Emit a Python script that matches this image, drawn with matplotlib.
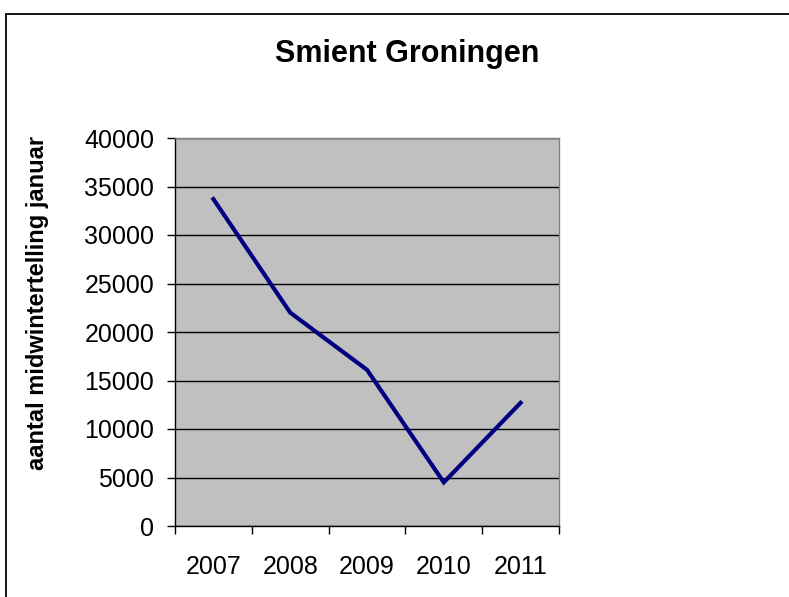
import matplotlib
matplotlib.use('Agg')
import matplotlib.pyplot as plt
from matplotlib.patches import Rectangle
from matplotlib.ticker import FixedLocator

years = ['2007', '2008', '2009', '2010', '2011']
counts = [33700, 22000, 16100, 4500, 12700]
yticks = [0, 5000, 10000, 15000, 20000, 25000, 30000, 35000, 40000]

plt.rcParams['font.family'] = ['Liberation Sans', 'DejaVu Sans']

W, H = 789, 597
fig = plt.figure(figsize=(W / 100, H / 100), dpi=100)
# chart frame, cut off at the right and bottom like the original
fig.add_artist(Rectangle((6 / W, -0.1), 1.2, 1.1 - 14 / H,
                         transform=fig.transFigure, fill=False,
                         edgecolor='black', linewidth=1.3))

ax = fig.add_axes([175 / W, 1 - 526 / H, (559 - 175) / W, (526 - 138) / H])
ax.set_facecolor('#C0C0C0')

x = list(range(len(years)))
ax.plot(x, counts, color='#000080', linewidth=3, solid_joinstyle='miter', zorder=3)

ax.set_xlim(-0.5, len(years) - 0.5)
ax.set_ylim(0, 40000)
ax.set_yticks(yticks)
ax.set_yticklabels([str(v) for v in yticks])
ax.yaxis.grid(True, color='black', linewidth=1)
ax.set_axisbelow(True)

ax.set_xticks(x)
ax.set_xticklabels(years)
ax.xaxis.set_minor_locator(FixedLocator([i - 0.5 for i in range(len(years) + 1)]))
ax.tick_params(axis='x', which='major', length=0, pad=21, labelsize=18)
ax.tick_params(axis='x', which='minor', length=6, width=1, color='black')
ax.tick_params(axis='y', length=6, width=1, color='black', pad=9, labelsize=18)

ax.spines['left'].set_color('black')
ax.spines['bottom'].set_color('black')
ax.spines['top'].set_color('#808080')
ax.spines['right'].set_color('#808080')
for s in ax.spines.values():
    s.set_linewidth(1)

fig.text(407 / W, 1 - 54 / H, 'Smient Groningen', ha='center', va='center',
         fontsize=22, fontweight='bold')
fig.text(38 / W, 1 - 303 / H, 'aantal midwintertelling januar', ha='center',
         va='center', rotation=90, fontsize=17, fontweight='bold')

fig.savefig('out.png', dpi=100)
